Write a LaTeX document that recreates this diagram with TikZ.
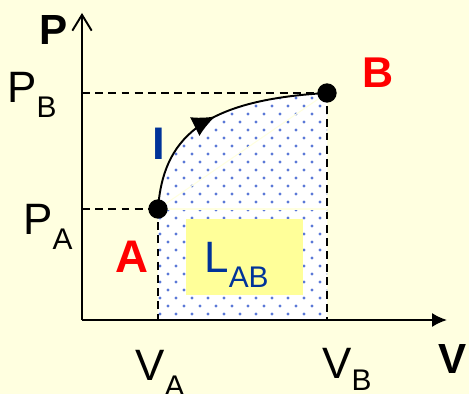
\documentclass[tikz,border=0pt]{standalone}
\usepackage{fontspec}
\setmainfont{Liberation Sans}
\usetikzlibrary{arrows.meta,decorations.markings}
\tikzset{>=latex}
\definecolor{paper}{RGB}{255,255,224}
\definecolor{hilite}{RGB}{255,255,153}
\definecolor{dotblue}{RGB}{90,120,215}
\definecolor{deepblue}{RGB}{0,51,153}
\tikzstyle{axis}=[line width=1.1pt]
\tikzstyle{guide}=[line width=1.1pt, dash pattern=on 4.5pt off 3pt]
\tikzstyle{state}=[circle, fill=black, inner sep=0pt, minimum size=11pt]
\tikzstyle{txt}=[inner sep=0pt, anchor=base west, font=\fontsize{25}{30}\selectfont]
\tikzstyle{tag}=[inner sep=0pt, anchor=base, font=\bfseries\fontsize{26}{30}\selectfont]
\newcommand{\lowtxt}[2]{\raisebox{-#1}{\fontsize{17}{20}\selectfont #2}}

\begin{document}
\begin{tikzpicture}[x=0.02cm, y=-0.02cm]
    % background and margins
    \fill[paper] (0,0) rectangle (469,394);
    \useasboundingbox (0,0) rectangle (469,394);

    % states and axis origin
    \coordinate (O) at (82,320);
    \coordinate (pTop) at (82,13);
    \coordinate (vEnd) at (447,320);
    \coordinate (A) at (158,209);
    \coordinate (B) at (327,93);

    % work area under the path
    \begin{scope}
        \clip (A |- O) -- (A) .. controls (163,140) and (200,100) .. (B) -- (B |- O) -- cycle;
        \fill[white] (0,0) rectangle (469,394);
        \foreach \r in {0,...,29}
            \foreach \c in {0,...,11}
                \fill[dotblue] ({160+16*\c+8*mod(\r,2)},{314-8*\r}) circle (0.9pt);
        \draw[paper, line width=0.6pt] (A) -- (B);
        \draw[paper, line width=0.6pt] (A) -- (A -| B);
    \end{scope}

    % highlighted label box
    \fill[hilite] (186,219) rectangle (303,295);
    \node[txt, text=deepblue] (lab) at (204,273) {L\lowtxt{8.5pt}{AB}};

    % guide lines to the axes
    \draw[guide] (O |- A) -- (A);
    \draw[guide] (O |- B) -- (B);
    \draw[guide] (A) -- (A |- O);
    \draw[guide] (B) -- (B |- O);

    % axes
    \draw[axis, -{Straight Barb[length=9pt,width=11pt]}] (O) -- (pTop);
    \draw[axis, -{Latex[length=8.5pt,width=8pt]}] (O) -- (vEnd);

    % process path from A to B
    \draw[line width=1.1pt, postaction={decorate},
        decoration={markings, mark=at position 0.5 with {\arrow{Latex[length=13pt,width=12pt]}}}]
        (A) .. controls (163,140) and (200,100) .. (B);
    \node[state] (stA) at (A) {};
    \node[state] (stB) at (B) {};

    % labels
    \node[txt, font=\bfseries\fontsize{24}{28}\selectfont] (pAxis) at (39,45) {P};
    \node[txt] (pB) at (7,103) {P\lowtxt{8pt}{B}};
    \node[txt] (pA) at (23,235) {P\lowtxt{8.5pt}{A}};
    \node[txt] (vA) at (135,380) {V\lowtxt{9.5pt}{A}};
    \node[txt] (vB) at (322,378) {V\lowtxt{7pt}{B}};
    \node[txt, font=\bfseries\fontsize{24}{28}\selectfont] (vAxis) at (438,373) {V};
    \node[tag, text=deepblue] (path) at (158.5,160) {I};
    \node[tag, text=red] (nameA) at (131.5,273) {A};
    \node[tag, text=red, font=\bfseries\fontsize{24.5}{28}\selectfont] (nameB) at (378.5,88) {B};
\end{tikzpicture}
\end{document}
